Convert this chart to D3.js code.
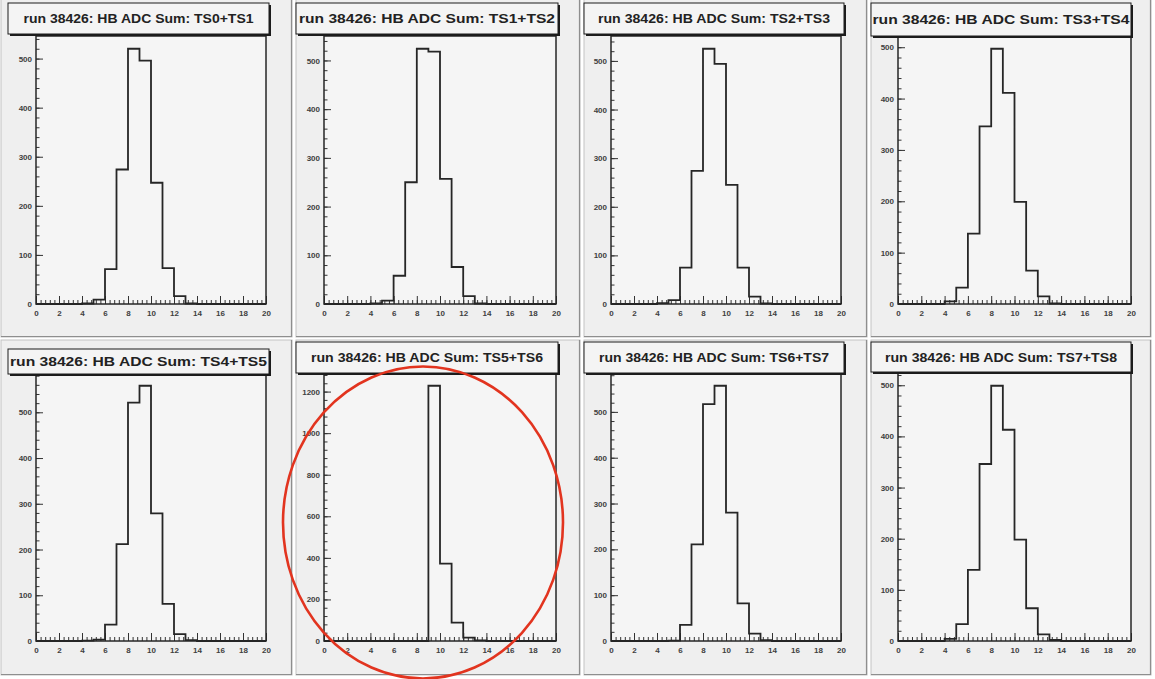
<!DOCTYPE html>
<html>
<head>
<meta charset="utf-8">
<script src="https://cdn.jsdelivr.net/npm/d3@7"></script>
<style>
  html, body { margin: 0; padding: 0; background: #ffffff; }
  svg { display: block; }
  .tick text { font-family: "Liberation Sans", Arial, sans-serif; font-weight: bold; }
</style>
</head>
<body>
<svg id="canvas" width="1155" height="679"></svg>
<script>
// ---- data -------------------------------------------------------------
const runNumber = 38426;
const sumLabels = ["TS0+TS1", "TS1+TS2", "TS2+TS3", "TS3+TS4",
                   "TS4+TS5", "TS5+TS6", "TS6+TS7", "TS7+TS8"];

// ADC-sum histogram binning: 20 bins from 0 to 20
const binLow = 0;
const binHigh = 20;
const nBins = 20;
const xTickLabels = [0, 2, 4, 6, 8, 10, 12, 14, 16, 18, 20];

// entries per bin (bins 0..19)
const countsTS0TS1 = [0, 0, 0, 0, 1, 9, 71, 274, 520, 496, 247, 73, 16, 1, 0, 0, 0, 0, 0, 0];
const countsTS1TS2 = [0, 0, 0, 0, 1, 7, 58, 250, 524, 518, 257, 76, 16, 1, 0, 0, 0, 0, 0, 0];
const countsTS2TS3 = [0, 0, 0, 0, 2, 8, 75, 274, 525, 494, 245, 75, 15, 1, 0, 0, 0, 0, 0, 0];
const countsTS3TS4 = [0, 0, 0, 0, 5, 32, 137, 346, 497, 411, 199, 65, 15, 1, 0, 0, 0, 0, 0, 0];
const countsTS4TS5 = [0, 0, 0, 0, 1, 3, 36, 212, 521, 558, 279, 81, 15, 2, 0, 0, 0, 0, 0, 0];
const countsTS5TS6 = [0, 0, 0, 0, 0, 0, 0, 0, 0, 1228, 372, 88, 16, 3, 0, 0, 0, 0, 0, 0];
const countsTS6TS7 = [0, 0, 0, 0, 0, 1, 35, 211, 517, 557, 280, 82, 16, 2, 0, 0, 0, 0, 0, 0];
const countsTS7TS8 = [0, 0, 0, 0, 4, 33, 139, 346, 499, 413, 198, 64, 13, 2, 0, 0, 0, 0, 0, 0];

const histograms = [countsTS0TS1, countsTS1TS2, countsTS2TS3, countsTS3TS4,
                    countsTS4TS5, countsTS5TS6, countsTS6TS7, countsTS7TS8];

// index of the highlighted pad
const highlighted = 5;

// ---- canvas layout (4 x 2 pads) ----------------------------------------
const padCols   = [[1, 292], [296, 580], [584, 867], [871, 1151]];
const padRows   = [[-3, 337], [340, 675]];
const frameCols = [[36, 266], [324, 556], [611, 841], [898, 1131]];
const frameRows = [[36, 304], [373, 641]];
const titleCols = [[8, 269], [296, 558], [584, 844], [871, 1131]];
const titleTops = [3, 3, 3, 3, 349, 342, 342, 342];
const titleBottoms = [34, 34, 34, 36, 374, 373, 373, 372];
const titleTextWidths = [230, 256, 232, 257, 257, 232, 230, 232];

const svg = d3.select("#canvas");
const binWidth = (binHigh - binLow) / nBins;

histograms.forEach((counts, i) => {
  const col = i % 4, row = Math.floor(i / 4);
  const [px0, px1] = padCols[col];
  const [py0, py1] = padRows[row];
  const [fx0, fx1] = frameCols[col];
  const [fy0, fy1] = frameRows[row];

  const g = svg.append("g").attr("class", "pad");

  // pad background with bevelled edge
  g.append("rect")
    .attr("x", px0).attr("y", py0)
    .attr("width", px1 - px0).attr("height", py1 - py0)
    .attr("fill", "#efefef").attr("stroke", "#c4c4c4").attr("stroke-width", 1);
  g.append("path")
    .attr("d", `M${px1 - 0.5},${py0} V${py1 - 0.5} H${px0}`)
    .attr("fill", "none").attr("stroke", "#8e8e8e").attr("stroke-width", 1.2);

  // scales: ROOT-style maximum = 1.05 x highest bin
  const x = d3.scaleLinear().domain([binLow, binHigh]).range([fx0, fx1]);
  const yMax = d3.max(counts) * 1.05;
  const y = d3.scaleLinear().domain([0, yMax]).range([fy1, fy0]);

  // frame
  g.append("rect")
    .attr("x", fx0).attr("y", fy0)
    .attr("width", fx1 - fx0).attr("height", fy1 - fy0)
    .attr("fill", "#f5f5f5");

  // x axis: major + minor ticks pointing into the frame
  const xMinor = d3.range(binLow, binHigh + 1e-9, 0.4);
  const xMinorAxis = g.append("g")
    .attr("transform", `translate(0,${fy1})`)
    .call(d3.axisBottom(x).tickValues(xMinor).tickSize(-4).tickFormat(""));
  const xMajorAxis = g.append("g")
    .attr("transform", `translate(0,${fy1})`)
    .call(d3.axisBottom(x).tickValues(xTickLabels).tickSize(-8).tickPadding(6).tickFormat(d3.format("d")));

  // y axis
  const yMajor = y.ticks(6);
  const yStep = yMajor[1] - yMajor[0];
  const yMinor = d3.range(0, yMax, yStep / 5);
  const yMinorAxis = g.append("g")
    .attr("transform", `translate(${fx0},0)`)
    .call(d3.axisLeft(y).tickValues(yMinor).tickSize(-3.5).tickFormat(""));
  const yMajorAxis = g.append("g")
    .attr("transform", `translate(${fx0},0)`)
    .call(d3.axisLeft(y).tickValues(yMajor).tickSize(-7).tickPadding(4).tickFormat(d3.format("d")));

  [xMinorAxis, xMajorAxis, yMinorAxis, yMajorAxis].forEach(a => {
    a.select(".domain").remove();
    a.selectAll(".tick line").attr("stroke", "#333").attr("stroke-width", 1);
    a.selectAll(".tick text").attr("fill", "#404040").style("font-size", "8px");
  });

  // histogram outline (step line)
  const pts = counts.map((v, k) => [binLow + k * binWidth, v]);
  pts.push([binHigh, counts[counts.length - 1]]);
  g.append("path")
    .datum(pts)
    .attr("d", d3.line().x(d => x(d[0])).y(d => y(d[1])).curve(d3.curveStepAfter))
    .attr("fill", "none")
    .attr("stroke", "#262626")
    .attr("stroke-width", 1.8);

  // frame border
  g.append("rect")
    .attr("x", fx0).attr("y", fy0)
    .attr("width", fx1 - fx0).attr("height", fy1 - fy0)
    .attr("fill", "none").attr("stroke", "#262626").attr("stroke-width", 1.5);

  // title box with drop shadow
  const [tx0, tx1] = titleCols[col];
  const ty0 = titleTops[i], ty1 = titleBottoms[i];
  g.append("rect")
    .attr("x", tx0 + 2).attr("y", ty0 + 2)
    .attr("width", tx1 - tx0).attr("height", ty1 - ty0)
    .attr("fill", "#1c1c1c");
  g.append("rect")
    .attr("x", tx0).attr("y", ty0)
    .attr("width", tx1 - tx0).attr("height", ty1 - ty0)
    .attr("fill", "#f4f4f4").attr("stroke", "#1c1c1c").attr("stroke-width", 1);
  g.append("text")
    .attr("x", (tx0 + tx1) / 2)
    .attr("y", (ty0 + ty1) / 2 + 4.5)
    .attr("text-anchor", "middle")
    .attr("textLength", titleTextWidths[i])
    .attr("lengthAdjust", "spacingAndGlyphs")
    .style("font-family", '"Liberation Sans", Arial, sans-serif')
    .style("font-weight", "bold")
    .style("font-size", "12px")
    .attr("fill", "#222")
    .text(`run ${runNumber}: HB ADC Sum: ${sumLabels[i]}`);
});

// red ring around the highlighted pad
{
  const col = highlighted % 4, row = Math.floor(highlighted / 4);
  const cx = (padCols[col][0] + padCols[col][1]) / 2 - 15;
  const cy = (padRows[row][0] + padRows[row][1]) / 2 + 15;
  svg.append("ellipse")
    .attr("cx", cx).attr("cy", cy)
    .attr("rx", 140).attr("ry", 156)
    .attr("fill", "none")
    .attr("stroke", "#e2341f")
    .attr("stroke-width", 2.6);
}
</script>
</body>
</html>
